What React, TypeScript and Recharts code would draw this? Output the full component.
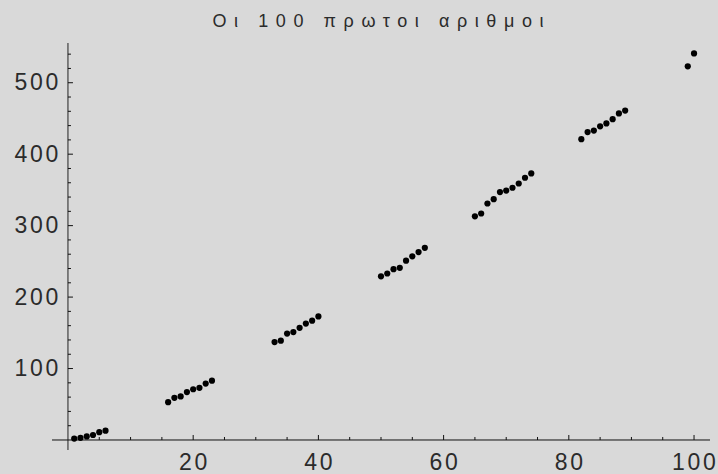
import { ScatterChart, Scatter, XAxis, YAxis, ReferenceLine } from 'recharts'

// index n and the n-th prime, as plotted
const primeIndex = [1, 2, 3, 4, 5, 6, 16, 17, 18, 19, 20, 21, 22, 23, 33, 34, 35, 36, 37, 38, 39, 40, 50, 51, 52, 53, 54, 55, 56, 57, 65, 66, 67, 68, 69, 70, 71, 72, 73, 74, 82, 83, 84, 85, 86, 87, 88, 89, 99, 100]
const primeValue = [2, 3, 5, 7, 11, 13, 53, 59, 61, 67, 71, 73, 79, 83, 137, 139, 149, 151, 157, 163, 167, 173, 229, 233, 239, 241, 251, 257, 263, 269, 313, 317, 331, 337, 347, 349, 353, 359, 367, 373, 421, 431, 433, 439, 443, 449, 457, 461, 523, 541]

const xMajor = [20, 40, 60, 80, 100]
const xLabels = ['20', '40', '60', '80', '100']
const xMinor = [5, 10, 15, 25, 30, 35, 45, 50, 55, 65, 70, 75, 85, 90, 95]
const yMajor = [100, 200, 300, 400, 500]
const yLabels = ['100', '200', '300', '400', '500']
const yMinor = [20, 40, 60, 80, 120, 140, 160, 180, 220, 240, 260, 280, 320, 340, 360, 380, 420, 440, 460, 480, 520, 540]

const title = 'Οι 100 πρωτοι αριθμοι'

const data = primeIndex.map((n, i) => ({ n, p: primeValue[i] }))

const W = 718
const H = 474
const TOP = 43
const X_AXIS_H = 24
const Y_AXIS_W = 52
const RIGHT = 8
const X_DOMAIN: [number, number] = [-2.55, 102.55]
const Y_DOMAIN: [number, number] = [-14, 555.6]

const plotW = W - Y_AXIS_W - RIGHT
const plotH = H - TOP - X_AXIS_H
// where the axes cross (value 0 on the other axis)
const zeroY = TOP + (plotH * Y_DOMAIN[1]) / (Y_DOMAIN[1] - Y_DOMAIN[0])
const zeroX = Y_AXIS_W + (plotW * -X_DOMAIN[0]) / (X_DOMAIN[1] - X_DOMAIN[0])

const ADV = 15.5
const font = '"Liberation Sans", Arial, sans-serif'
const ink = '#2b2b2b'

function cells(label: string, lastCenter: number) {
    const n = label.length
    return label
        .split('')
        .map((_, i) => (lastCenter - (n - 1 - i) * ADV).toFixed(1))
        .join(' ')
}

function XTick({ x, payload }: any) {
    const v = payload.value
    const k = xMajor.indexOf(v)
    const major = k >= 0
    const label = major ? xLabels[k] : ''
    const lastCenter = x + ((label.length - 1) / 2) * ADV
    return (
        <g>
            <line x1={x} x2={x} y1={zeroY} y2={zeroY - (major ? 5 : 3)} stroke="#111" strokeWidth={1} />
            {major && (
                <text x={cells(label, lastCenter)} y={zeroY + 30} textAnchor="middle" fontFamily={font} fontSize={23} fill={ink}>
                    {label}
                </text>
            )}
        </g>
    )
}

function YTick({ y, payload }: any) {
    const v = payload.value
    const k = yMajor.indexOf(v)
    const major = k >= 0
    const label = major ? yLabels[k] : ''
    return (
        <g>
            <line x1={zeroX} x2={zeroX + (major ? 5 : 3)} y1={y} y2={y} stroke="#111" strokeWidth={1} />
            {major && (
                <text x={cells(label, zeroX - 16)} y={y + 7.5} textAnchor="middle" fontFamily={font} fontSize={23} fill={ink}>
                    {label}
                </text>
            )}
        </g>
    )
}

const dot = (p: any) => <circle cx={p.cx} cy={p.cy} r={3.1} fill="#000" />

export default function App() {
    return (
        <div style={{ position: 'absolute', left: 0, top: 0, width: W, height: H, background: '#d9d9d9' }}>
            <ScatterChart width={W} height={H} margin={{ top: TOP, right: RIGHT, bottom: 0, left: 0 }}>
                <XAxis
                    type="number"
                    dataKey="n"
                    domain={X_DOMAIN}
                    allowDataOverflow
                    ticks={[...xMinor, ...xMajor].sort((a, b) => a - b)}
                    interval={0}
                    height={X_AXIS_H}
                    axisLine={false}
                    tickLine={false}
                    tickSize={0}
                    tickMargin={0}
                    tick={<XTick />}
                />
                <YAxis
                    type="number"
                    dataKey="p"
                    domain={Y_DOMAIN}
                    allowDataOverflow
                    ticks={[...yMinor, ...yMajor].sort((a, b) => a - b)}
                    interval={0}
                    width={Y_AXIS_W}
                    axisLine={false}
                    tickLine={false}
                    tickSize={0}
                    tickMargin={0}
                    tick={<YTick />}
                />
                <ReferenceLine x={0} stroke="#222" strokeWidth={1} />
                <ReferenceLine y={0} stroke="#111" strokeWidth={1} />
                <Scatter data={data} shape={dot} isAnimationActive={false} />
            </ScatterChart>
            <svg width={W} height={40} style={{ position: 'absolute', left: 0, top: 0, pointerEvents: 'none' }}>
                <text x={212.5} y={26.7} fontFamily={font} fontSize={18} fill={ink} textLength={331} lengthAdjust="spacing">
                    {title}
                </text>
            </svg>
        </div>
    )
}
